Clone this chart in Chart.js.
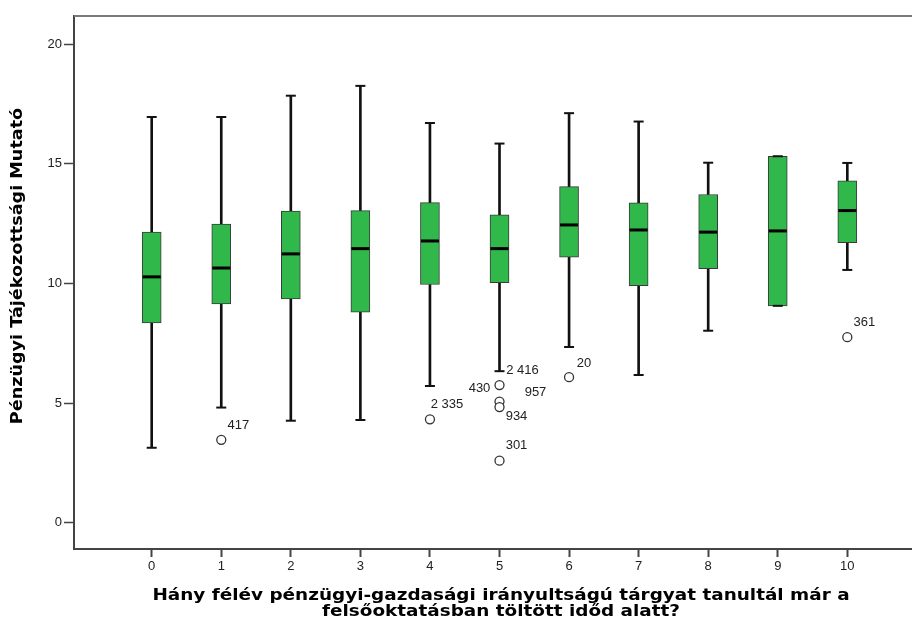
<!DOCTYPE html>
<html>
<head>
<meta charset="utf-8">
<script src="https://cdn.jsdelivr.net/npm/chart.js@4/dist/chart.umd.min.js"></script>
<style>
  body { margin: 0; background: #fff; }
  #wrap { width: 912px; height: 623px; }
</style>
</head>
<body>
<div id="wrap"><canvas id="box-chart" width="912" height="623"></canvas></div>
<script>
// values
const categories = [0, 1, 2, 3, 4, 5, 6, 7, 8, 9, 10];
const whiskerLow = [3.13, 4.81, 4.26, 4.29, 5.71, 6.33, 7.34, 6.17, 8.02, 9.06, 10.56];
const quart1 = [8.35, 9.14, 9.35, 8.80, 9.95, 10.03, 11.09, 9.90, 10.61, 9.06, 11.70];
const medians = [10.27, 10.64, 11.23, 11.45, 11.77, 11.45, 12.44, 12.23, 12.14, 12.19, 13.04];
const quart3 = [12.14, 12.48, 13.02, 13.04, 13.37, 12.86, 14.04, 13.36, 13.71, 15.31, 14.28];
const whiskerHigh = [16.95, 16.95, 17.84, 18.25, 16.70, 15.84, 17.11, 16.76, 15.04, 15.31, 15.03];

const outlierCat = [1, 4, 5, 5, 5, 5, 6, 10];
const outlierVal = [3.46, 4.32, 5.75, 5.06, 4.83, 2.59, 6.08, 7.75];

const labelCat = [1, 4, 5, 5, 5, 5, 5, 6, 10];
const labelVal = [3.46, 4.32, 5.75, 5.75, 5.06, 4.83, 2.59, 6.08, 7.75];
const labelText = ['417', '2 335', '2 416', '430', '957', '934', '301', '20', '361'];

const yTicks = [0, 5, 10, 15, 20];
const xTicks = categories;

const yTitle = 'Pénzügyi Tájékozottsági Mutató';
const xTitle = ['Hány félév pénzügyi-gazdasági irányultságú tárgyat tanultál már a',
                'felsőoktatásban töltött időd alatt?'];

// label nudges in px (dx, dy from the point), like SPSS places them
const labelNudge = [[17, -14], [17, -15], [23, -15], [-20, 3], [36, -9], [17, 9], [17, -15], [15, -14], [17, -15]];

const FONT = '"Liberation Sans", Arial, sans-serif';
const TITLE_FONT = 'bold 16px "DejaVu Sans", Verdana, sans-serif';

const extras = {
    id: 'extras',
    afterDatasetsDraw(chart) {
        const ctx = chart.ctx;
        const xs = chart.scales.x, ys = chart.scales.y;
        const area = chart.chartArea;
        ctx.save();
        // top frame line
        ctx.strokeStyle = '#7a7a7a';
        ctx.lineWidth = 2;
        ctx.beginPath();
        ctx.moveTo(area.left, area.top);
        ctx.lineTo(area.right, area.top);
        ctx.stroke();
        // outlier case labels
        ctx.fillStyle = '#222';
        ctx.font = '13px ' + FONT;
        ctx.textAlign = 'center';
        ctx.textBaseline = 'middle';
        labelText.forEach((t, i) => {
            const px = xs.getPixelForValue(labelCat[i]) + labelNudge[i][0];
            const py = ys.getPixelForValue(labelVal[i]) + labelNudge[i][1];
            ctx.fillText(t, px, py);
        });
        // x title, two lines under the tick labels (SPSS text is a bit wide)
        ctx.fillStyle = '#000';
        ctx.font = TITLE_FONT;
        ctx.save();
        ctx.translate(501, area.bottom + 47);
        ctx.scale(1.15, 1);
        xTitle.forEach((line, i) => ctx.fillText(line, 0, i * 16));
        ctx.restore();
        // y title
        ctx.translate(18, 266);
        ctx.rotate(-Math.PI / 2);
        ctx.scale(1.1, 1);
        ctx.fillText(yTitle, 0, 0);
        ctx.restore();
    }
};

const ctx = document.getElementById('box-chart').getContext('2d');
new Chart(ctx, {
    type: 'bar',
    data: {
        datasets: [
            {
                label: 'upper whisker',
                data: categories.map((c, i) => ({ x: c, y: [quart3[i], whiskerHigh[i]] })),
                backgroundColor: '#111',
                borderWidth: 0,
                barThickness: 2,
                grouped: false,
                order: 4
            },
            {
                label: 'lower whisker',
                data: categories.map((c, i) => ({ x: c, y: [whiskerLow[i], quart1[i]] })),
                backgroundColor: '#111',
                borderWidth: 0,
                barThickness: 2,
                grouped: false,
                order: 4
            },
            {
                label: 'box',
                data: categories.map((c, i) => ({ x: c, y: [quart1[i], quart3[i]] })),
                backgroundColor: '#30b84b',
                borderColor: '#3a3a3a',
                borderWidth: 1,
                borderSkipped: false,
                barThickness: 19,
                grouped: false,
                order: 3
            },
            {
                type: 'scatter',
                label: 'caps',
                data: categories.map((c, i) => ({ x: c, y: whiskerHigh[i] }))
                    .concat(categories.map((c, i) => ({ x: c, y: whiskerLow[i] }))),
                pointStyle: 'line',
                radius: 5,
                borderWidth: 2,
                borderColor: '#111',
                order: 2
            },
            {
                type: 'scatter',
                label: 'median',
                data: categories.map((c, i) => ({ x: c, y: medians[i] })),
                pointStyle: 'line',
                radius: 9,
                borderWidth: 3,
                borderColor: '#000',
                order: 1
            },
            {
                type: 'scatter',
                label: 'outliers',
                data: outlierCat.map((c, i) => ({ x: c, y: outlierVal[i] })),
                pointStyle: 'circle',
                radius: 4.5,
                borderWidth: 1.3,
                borderColor: '#333',
                backgroundColor: '#fff',
                order: 0
            }
        ]
    },
    options: {
        responsive: false,
        animation: false,
        events: [],
        layout: { autoPadding: false, padding: { top: 16, right: 0, bottom: 0, left: 0 } },
        plugins: { legend: { display: false }, tooltip: { enabled: false } },
        scales: {
            x: {
                type: 'linear',
                offset: false,
                min: -1.117,
                max: 10.93,
                afterBuildTicks: (s) => { s.ticks = xTicks.map(v => ({ value: v })); },
                afterFit: (s) => { s.height = 74; },
                ticks: { color: '#222', font: { family: FONT, size: 13 }, padding: 2, maxRotation: 0 },
                grid: { offset: false, drawOnChartArea: false, tickLength: 8, tickColor: '#444', tickWidth: 2 },
                border: { color: '#444', width: 2 }
            },
            y: {
                min: -1.1,
                max: 21.17,
                afterBuildTicks: (s) => { s.ticks = yTicks.map(v => ({ value: v })); },
                afterFit: (s) => { s.width = 74; },
                ticks: { color: '#222', font: { family: FONT, size: 13 }, padding: 2 },
                grid: { drawOnChartArea: false, tickLength: 10, tickColor: '#444', tickWidth: 1.5 },
                border: { color: '#444', width: 2 }
            }
        }
    },
    plugins: [extras]
});
</script>
</body>
</html>
